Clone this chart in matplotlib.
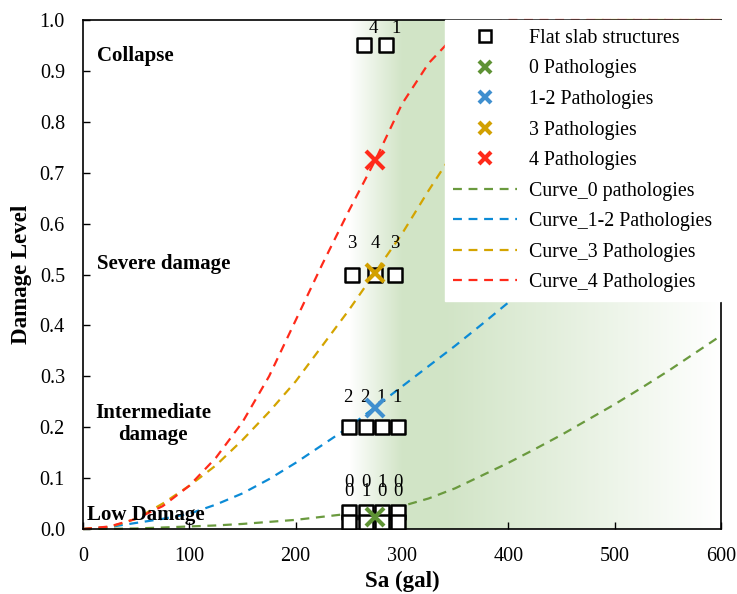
import numpy as np
import matplotlib
matplotlib.use("Agg")
import matplotlib.pyplot as plt
from matplotlib.lines import Line2D

plt.rcParams['font.family'] = ['Liberation Serif', 'DejaVu Serif']

# --- data ---
sa_grid = [0, 25, 50, 75, 100, 125, 150, 175, 200, 225, 250, 275, 300, 325, 350,
           375, 400, 425, 450, 475, 500, 525, 550, 575, 600]
curve_0 = [0, 0.0005, 0.001, 0.003, 0.005, 0.007, 0.01, 0.014, 0.018, 0.024, 0.03,
           0.037, 0.045, 0.06, 0.08, 0.105, 0.13, 0.157, 0.185, 0.215, 0.245,
           0.277, 0.31, 0.345, 0.38]
curve_12 = [0, 0.004, 0.012, 0.02, 0.03, 0.048, 0.07, 0.098, 0.13, 0.165, 0.2,
            0.24, 0.28, 0.32, 0.36, 0.402, 0.445, 0.488, 0.53, 0.57, 0.61,
            0.65, 0.69, 0.725, 0.76]
curve_3 = [0, 0.004, 0.02, 0.05, 0.085, 0.125, 0.175, 0.23, 0.29, 0.36, 0.43,
           0.505, 0.58, 0.665, 0.745, 0.82, 0.89, 0.95, 0.99, 1.0, 1.0,
           1.0, 1.0, 1.0, 1.0]
curve_4 = [0, 0.005, 0.02, 0.045, 0.085, 0.14, 0.21, 0.3, 0.41, 0.52, 0.625,
           0.725, 0.835, 0.915, 0.97, 0.995, 1.0, 1.0, 1.0, 1.0, 1.0,
           1.0, 1.0, 1.0, 1.0]

# flat slab buildings (Sa, damage level, number of pathologies)
slab_sa = [264, 285, 253, 275, 293, 250, 266, 281, 296, 250, 266, 281, 296,
           250, 266, 281, 296]
slab_dl = [0.95, 0.95, 0.5, 0.5, 0.5, 0.2, 0.2, 0.2, 0.2, 0.034, 0.034, 0.034,
           0.034, 0.014, 0.014, 0.014, 0.014]
slab_path = ["4", "1", "3", "4", "3", "2", "2", "1", "1", "0", "0", "1", "0",
             "0", "1", "0", "0"]

mean_sa = [275, 275, 275, 275]
mean_dl = [0.024, 0.238, 0.503, 0.725]
mean_labels = ["0 Pathologies", "1-2 Pathologies", "3 Pathologies", "4 Pathologies"]
mean_colors = ["#5E9234", "#3F8FCF", "#D2A000", "#FF2A1A"]

curve_labels = ["Curve_0 pathologies", "Curve_1-2 Pathologies",
                "Curve_3 Pathologies", "Curve_4 Pathologies"]
curve_colors = ["#6A9A3E", "#0C8BD6", "#D4A400", "#FF2A1A"]

zones = ["Collapse", "Severe damage", "Intermediate\ndamage", "Low Damage"]

fig = plt.figure(figsize=(7.37, 5.94), dpi=100)
ax = fig.add_axes([0.1126, 0.1094, 0.8657, 0.8569])
ax.set_xlim(0, 600)
ax.set_ylim(0, 1.0)

# green band behind everything
xs = np.linspace(0, 600, 601)
alpha = np.interp(xs, [0, 250, 300, 340, 600], [0, 0, 1, 1, 0])
band = np.zeros((1, len(xs), 4))
band[0, :, 0] = 0.82
band[0, :, 1] = 0.898
band[0, :, 2] = 0.78
band[0, :, 3] = alpha
ax.imshow(band, extent=[0, 600, 0, 1], aspect="auto", zorder=0, interpolation="bilinear")

for y, lab, col in zip([curve_0, curve_12, curve_3, curve_4], curve_labels, curve_colors):
    ax.plot(sa_grid, y, linestyle=(0, (4, 3)), color=col, lw=1.6, zorder=2, clip_on=False)

ax.scatter(slab_sa, slab_dl, marker="s", s=90, facecolor="white",
           edgecolor="black", linewidth=1.8, zorder=3)

# pathology counts above squares
label_y = {0.95: 0.983, 0.5: 0.56, 0.2: 0.258, 0.034: 0.092, 0.014: 0.074}
label_dx = {0.95: 9, 0.5: 0, 0.2: -1, 0.034: 0, 0.014: 0}
for xv, yv, t in zip(slab_sa, slab_dl, slab_path):
    ax.text(xv + label_dx[yv], label_y[yv], t, ha="center", va="center",
            fontsize=13.5, zorder=4)

for xv, yv, col in zip(mean_sa, mean_dl, mean_colors):
    ax.plot(xv, yv, marker="x", ms=13, mew=3, color=col, linestyle="none", zorder=5)

# zone labels
ax.text(13, 0.93, zones[0], fontsize=15, fontweight="bold", va="center")
ax.text(13, 0.52, zones[1], fontsize=15, fontweight="bold", va="center")
ax.text(66, 0.207, zones[2], fontsize=15, fontweight="bold", va="center",
        ha="center", linespacing=1.15)
ax.text(4, 0.028, zones[3], fontsize=15, fontweight="bold", va="center")

ax.set_xticks(range(0, 601, 100))
ax.set_yticks(np.arange(0, 1.01, 0.1))
ax.yaxis.set_major_formatter(matplotlib.ticker.FormatStrFormatter("%.1f"))
ax.tick_params(direction="in", labelsize=14.5, length=5, width=1)
ax.tick_params(axis="x", pad=13)
ax.tick_params(axis="y", pad=13)
for s in ax.spines.values():
    s.set_linewidth(1.2)

ax.set_xlabel("Sa (gal)", fontsize=16.5, fontweight="bold")
ax.set_ylabel("Damage Level", fontsize=16.5, fontweight="bold")
ax.xaxis.set_label_coords(0.5, -0.083)
ax.yaxis.set_label_coords(-0.08, 0.5)

handles = [Line2D([], [], marker="s", color="black", mfc="white", mew=1.8, ms=8,
                  linestyle="none", label="Flat slab structures")]
for lab, col in zip(mean_labels, mean_colors):
    handles.append(Line2D([], [], marker="x", color=col, mew=3, ms=8,
                          linestyle="none", label=lab))
for lab, col in zip(curve_labels, curve_colors):
    handles.append(Line2D([], [], color=col, lw=1.6, linestyle=(0, (4, 3)), label=lab))

leg = ax.legend(handles=handles, loc="upper right", bbox_to_anchor=(1.0, 1.0),
                borderaxespad=0.0, fontsize=14.3, frameon=True, fancybox=False,
                edgecolor="white", framealpha=1, handlelength=3.2,
                labelspacing=0.58, handletextpad=0.6, borderpad=0.45)
leg.set_zorder(6)

fig.savefig("out.png", dpi=100)
